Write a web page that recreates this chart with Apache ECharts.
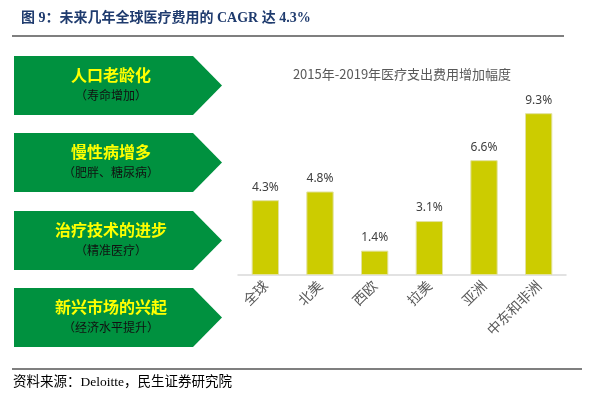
<!DOCTYPE html>
<html><head><meta charset="utf-8">
<script src="https://cdn.jsdelivr.net/npm/echarts@6/dist/echarts.min.js"></script>
<style>html,body{margin:0;padding:0;background:#fff}#c{width:589px;height:395px}</style>
</head><body><div id="c"></div>
<script>
const categories = ['全球','北美','西欧','拉美','亚洲','中东和非洲'];
const values = [4.3, 4.8, 1.4, 3.1, 6.6, 9.3];
const drivers = ['人口老龄化','慢性病增多','治疗技术的进步','新兴市场的兴起'];
const driverNotes = ['（寿命增加）','（肥胖、糖尿病）','（精准医疗）','（经济水平提升）'];

const CJK = '"Noto Sans CJK SC", "Noto Sans", sans-serif';
const SERIF = '"Liberation Serif", "Noto Sans CJK SC", serif';

const arrowTops = [56, 133, 211, 288];
const graphics = [];
arrowTops.forEach((t, i) => {
  const h = 59, x0 = 14, x1 = 193, x2 = 222;
  graphics.push({type:'polygon', shape:{points:[[x0,t],[x1,t],[x2,t+h/2],[x1,t+h],[x0,t+h]]}, style:{fill:'#00913F'}});
  graphics.push({type:'text', x:111, y:t+h/2-10.5, style:{text:drivers[i], fill:'#FFFF00', font:'bold 16px '+CJK, textAlign:'center', textVerticalAlign:'middle'}});
  graphics.push({type:'text', x:111, y:t+h/2+9.5, style:{text:driverNotes[i], fill:'#111', font:'12px '+CJK, textAlign:'center', textVerticalAlign:'middle'}});
});
graphics.push({type:'text', x:21, y:18, style:{text:'图 9：未来几年全球医疗费用的 CAGR 达 4.3%', fill:'#1F3B6E', font:'bold 14px '+SERIF, textVerticalAlign:'middle'}});
graphics.push({type:'line', shape:{x1:12,y1:36,x2:564,y2:36}, style:{stroke:'#000', lineWidth:1.2}});
graphics.push({type:'line', shape:{x1:12,y1:369,x2:582,y2:369}, style:{stroke:'#000', lineWidth:1.2}});
graphics.push({type:'text', x:13, y:382, style:{text:'资料来源：Deloitte，民生证券研究院', fill:'#000', font:'13.5px '+SERIF, textVerticalAlign:'middle'}});
graphics.push({type:'text', x:402, y:74, style:{text:'2015年-2019年医疗支出费用增加幅度', fill:'#595959', font:'13px '+CJK, textAlign:'center', textVerticalAlign:'middle'}});

const chart = echarts.init(document.getElementById('c'));
chart.setOption({
  animation:false,
  grid:{left:238, right:23, top:101, bottom:120},
  xAxis:{type:'category', data:categories,
    axisLine:{lineStyle:{color:'#D9D9D9', width:1.5}}, axisTick:{show:false},
    axisLabel:{rotate:45, color:'#595959', fontSize:14, fontFamily:'Noto Sans CJK SC', margin:8, interval:0}},
  yAxis:{type:'value', min:0, max:10, show:false, splitLine:{show:false}},
  series:[{type:'bar', data:values, barWidth:'50%',
    itemStyle:{color:'#CCCC00', borderColor:'#E2E2A0', borderWidth:1},
    label:{show:true, position:'top', distance:7, color:'#404040', fontSize:12, fontFamily:'Noto Sans', formatter:p=>p.value.toFixed(1)+'%'}}],
  graphic:graphics
});
</script></body></html>
